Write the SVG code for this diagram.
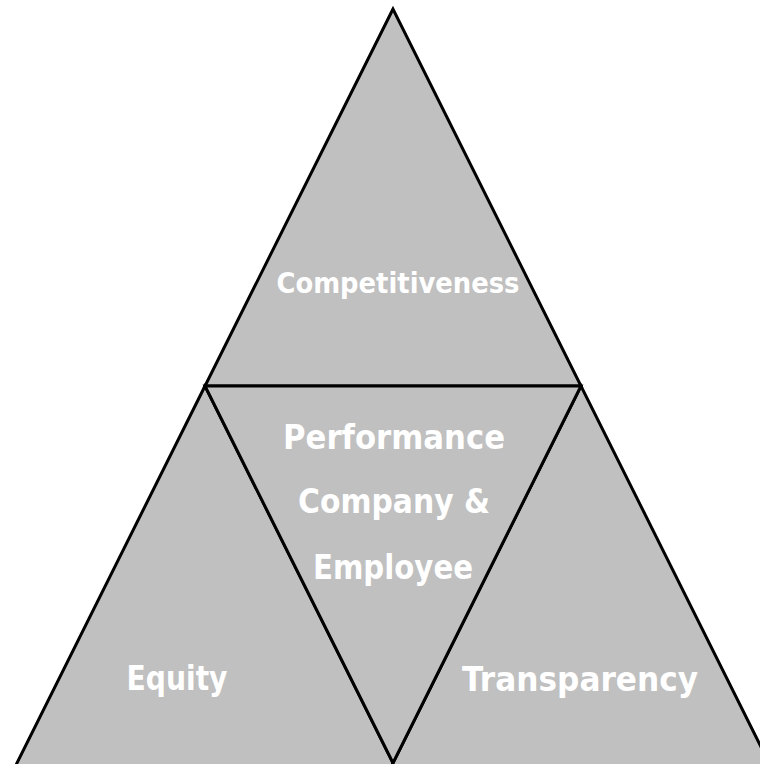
<svg xmlns="http://www.w3.org/2000/svg" width="760" height="764" viewBox="0 0 760 764">
  <style>
    .tri { fill: #c0c0c0; stroke: #000; stroke-width: 3; stroke-linejoin: miter; }
    .lbl { fill: #fff; font-family: "Comic Sans MS", "DejaVu Sans", sans-serif; font-weight: bold; text-anchor: middle; }
  </style>
  <rect width="760" height="764" fill="#fff"/>
  <!-- top triangle -->
  <g id="competitiveness">
    <polygon class="tri" points="393,9 205,386 581,386"/>
    <text class="lbl" x="398" y="293" font-size="28" textLength="243" lengthAdjust="spacingAndGlyphs">Competitiveness</text>
  </g>
  <!-- bottom-left triangle (base runs past the lower edge) -->
  <g id="equity">
    <polygon class="tri" points="205,386 14.5,768 395.5,768"/>
    <text class="lbl" x="177" y="690" font-size="33" textLength="101" lengthAdjust="spacingAndGlyphs">Equity</text>
  </g>
  <!-- bottom-right triangle -->
  <g id="transparency">
    <polygon class="tri" points="581,386 390.5,768 771.5,768"/>
    <text class="lbl" x="580" y="691" font-size="33" textLength="236" lengthAdjust="spacingAndGlyphs">Transparency</text>
  </g>
  <!-- inverted centre triangle -->
  <g id="performance">
    <polygon class="tri" points="205,386 581,386 393,763"/>
    <text class="lbl" x="394" y="449" font-size="34" textLength="222" lengthAdjust="spacingAndGlyphs">Performance</text>
    <text class="lbl" x="394" y="513" font-size="34" textLength="192" lengthAdjust="spacingAndGlyphs">Company &amp;</text>
    <text class="lbl" x="393" y="579" font-size="34" textLength="160" lengthAdjust="spacingAndGlyphs">Employee</text>
  </g>
</svg>
